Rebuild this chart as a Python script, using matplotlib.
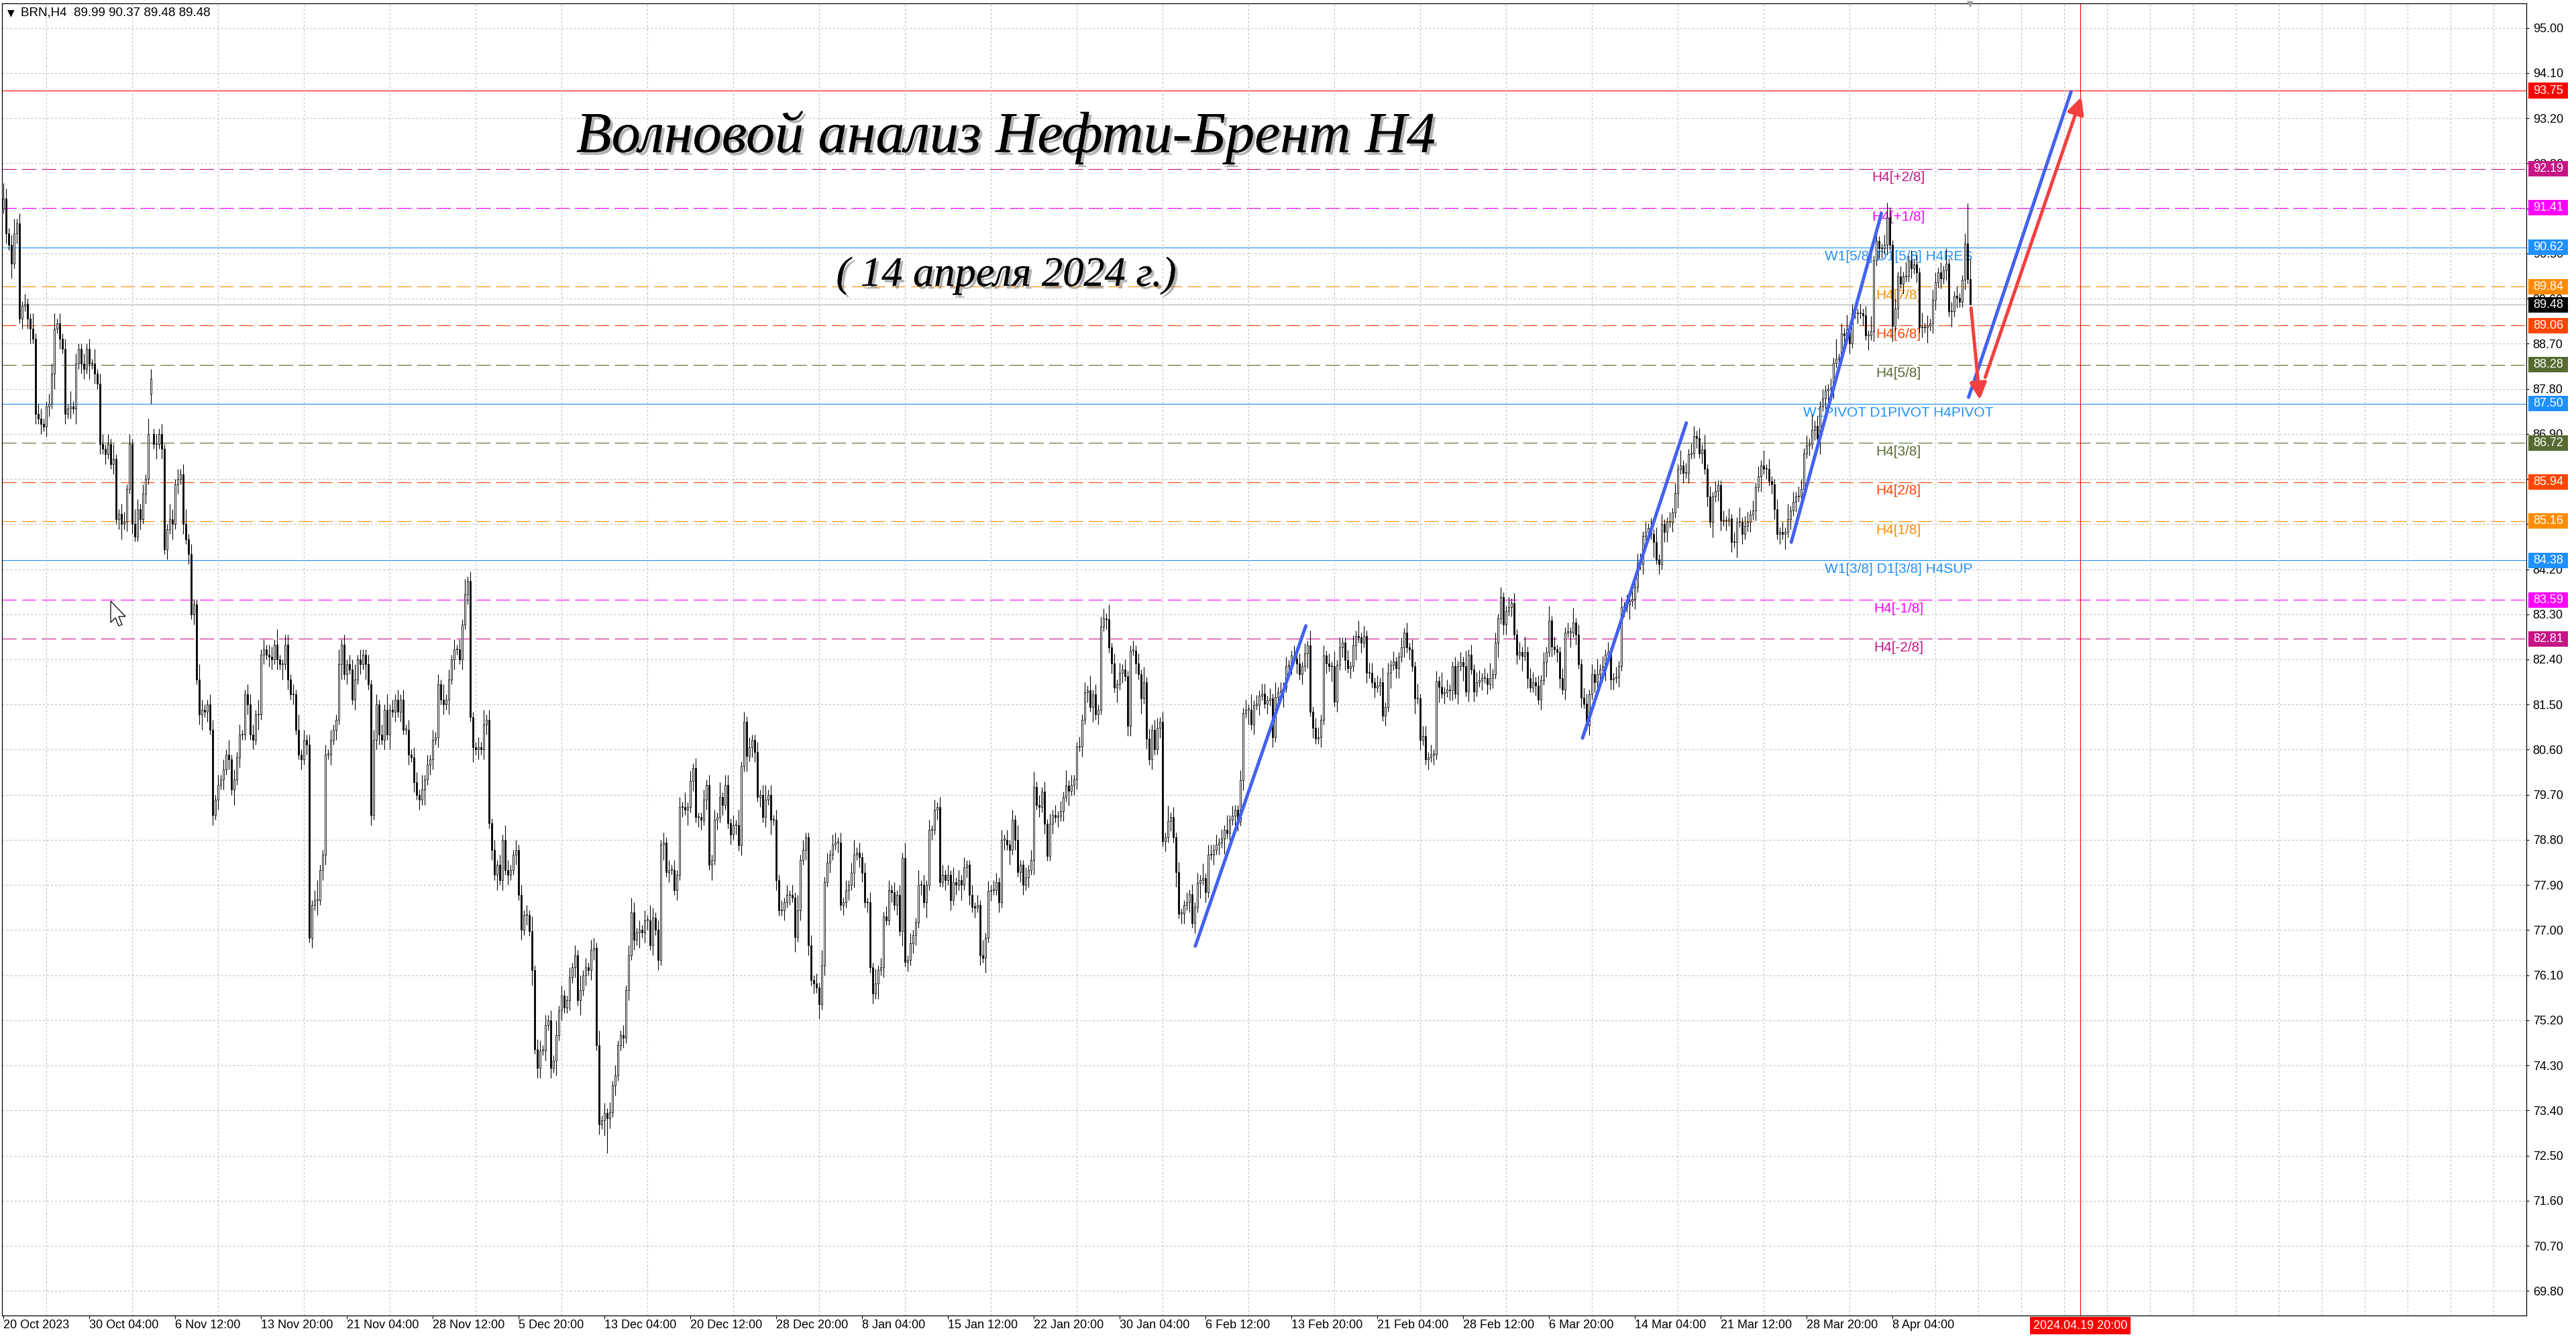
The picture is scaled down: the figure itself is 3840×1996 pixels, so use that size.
import numpy as np
import matplotlib.pyplot as plt
import matplotlib.patheffects as pe
from matplotlib.patches import Rectangle, Polygon
from matplotlib.transforms import blended_transform_factory

plt.rcParams['font.family'] = ['Liberation Sans', 'DejaVu Sans']

# BRN H4 closes, one per bar (20 Oct 2023 .. 12 Apr 2024)
closes = [
    91.6, 90.9, 90.67, 90.3, 90.9, 91.1, 89.2, 89.45, 89.5, 89.2,
    89.0, 88.8, 87.3, 87.2, 87.1, 87.05, 87.45, 87.5, 88.1, 89.0,
    89.1, 88.8, 88.6, 87.3, 87.4, 87.45, 87.4, 88.3, 88.6, 88.3,
    88.2, 88.6, 88.3, 88.3, 88.1, 87.9, 86.7, 86.6, 86.5, 86.7,
    86.3, 86.4, 85.2, 85.3, 85.1, 85.15, 85.8, 86.7, 85.1, 84.85,
    85.4, 85.2, 85.7, 86.0, 86.9, 88.0, 86.7, 86.7, 86.9, 86.6,
    84.6, 85.0, 85.2, 85.1, 85.9, 86.0, 86.1, 85.1, 84.8, 84.5,
    83.3, 83.5, 82.0, 81.3, 81.4, 81.35, 81.5, 81.0, 79.3, 79.6,
    79.9, 80.0, 80.2, 80.5, 80.4, 79.8, 80.0, 80.45, 80.9, 80.9,
    81.7, 81.5, 80.9, 80.8, 81.3, 81.3, 82.5, 82.6, 82.5, 82.45,
    82.4, 82.7, 82.4, 82.3, 82.3, 82.7, 82.0, 81.7, 81.7, 81.0,
    80.5, 80.4, 80.8, 80.7, 76.85, 77.5, 77.6, 77.6, 78.2, 78.5,
    80.5, 80.5, 80.8, 81.0, 81.2, 82.3, 82.7, 82.1, 82.3, 82.2,
    81.6, 82.0, 82.4, 82.3, 82.5, 82.3, 81.9, 79.3, 80.8, 81.5,
    80.9, 80.8, 81.4, 80.9, 81.4, 81.35, 81.6, 81.35, 81.6, 81.0,
    81.0, 80.5, 80.45, 79.95, 79.7, 79.6, 79.8, 80.0, 80.3, 80.4,
    80.8, 80.85, 81.9, 81.6, 81.5, 81.6, 82.0, 82.4, 82.6, 82.6,
    82.4, 83.1, 83.7, 83.96, 81.25, 80.65, 80.6, 80.65, 80.6, 81.1,
    81.2, 79.13, 78.6, 78.1, 78.3, 78.0, 78.8, 78.2, 78.1, 78.2,
    78.5, 78.6, 77.7, 77.0, 77.3, 77.3, 76.98, 76.2, 74.63, 74.25,
    74.6, 74.6, 75.1, 75.2, 74.25, 74.4, 74.9, 75.4, 75.7, 75.45,
    75.6, 76.05, 76.25, 76.5, 75.6, 75.8, 76.1, 76.25, 76.2, 76.6,
    76.65, 74.7, 73.13, 73.2, 73.35, 73.25, 73.37, 73.9, 74.1, 74.7,
    74.9, 74.85, 75.8, 76.5, 77.35, 76.8, 76.95, 77.0, 76.95, 77.2,
    77.2, 76.7, 77.25, 77.0, 76.4, 78.7, 78.75, 78.16, 78.2, 78.2,
    77.8, 78.1, 79.46, 79.45, 79.4, 79.45, 79.98, 80.23, 79.25, 79.25,
    79.2, 79.6, 79.9, 78.3, 78.4, 79.2, 79.25, 79.65, 79.5, 79.9,
    79.13, 78.9, 79.1, 79.1, 78.69, 80.27, 81.16, 80.47, 80.65, 80.8,
    80.55, 79.66, 79.7, 79.25, 79.6, 79.7, 79.2, 79.2, 78.0, 77.39,
    77.4, 77.55, 77.7, 77.7, 77.65, 76.86, 77.4, 78.4, 78.6, 78.85,
    76.7, 76.0, 75.93, 75.85, 75.52, 76.3, 77.96, 78.35, 78.5, 78.7,
    78.75, 78.75, 77.5, 77.55, 77.8, 77.9, 78.15, 78.5, 78.55, 78.45,
    78.15, 77.55, 77.55, 76.25, 75.73, 75.93, 76.2, 76.25, 77.27, 77.2,
    77.8, 77.75, 77.5, 77.7, 76.98, 78.44, 76.37, 76.4, 76.74, 76.9,
    77.15, 77.9, 77.9, 77.55, 77.9, 79.0, 79.0, 79.4, 79.45, 77.96,
    78.1, 78.0, 78.1, 77.6, 77.95, 77.9, 78.0, 77.9, 78.25, 78.3,
    77.7, 77.46, 77.45, 77.5, 76.5, 76.45, 76.85, 77.78, 77.8, 77.8,
    77.95, 77.55, 78.8, 78.8, 78.7, 78.6, 79.2, 78.8, 78.16, 78.3,
    77.9, 78.05, 78.2, 78.4, 79.86, 79.5, 79.45, 79.76, 79.12, 78.48,
    79.12, 79.3, 79.25, 79.28, 79.38, 79.66, 79.89, 79.78, 79.9, 80.0,
    80.66, 80.66, 81.2, 81.75, 81.78, 81.45, 81.7, 81.3, 81.4, 83.06,
    83.22, 83.2, 82.64, 82.32, 81.84, 81.9, 82.13, 82.2, 82.07, 81.07,
    82.58, 82.58, 82.32, 82.1, 81.62, 81.95, 80.82, 80.4, 81.0, 80.6,
    81.04, 81.15, 78.77, 78.85, 79.18, 79.25, 78.85, 78.16, 77.33, 77.33,
    77.5, 77.55, 77.71, 77.14, 77.46, 77.94, 78.0, 78.03, 77.75, 78.51,
    78.5, 78.6, 78.7, 78.74, 78.82, 79.0, 78.93, 79.2, 79.28, 79.4,
    79.18, 79.99, 81.33, 81.4, 81.4, 81.1, 81.49, 81.49, 81.68, 81.72,
    81.52, 81.58, 81.62, 80.85, 81.65, 81.75, 81.75, 81.84, 82.26, 82.29,
    82.48, 82.42, 82.32, 82.1, 82.26, 82.52, 82.68, 81.36, 81.04, 80.82,
    80.85, 81.2, 82.48, 82.32, 82.26, 82.26, 81.56, 82.29, 82.64, 82.74,
    82.39, 82.23, 82.26, 82.68, 82.87, 82.84, 82.74, 82.87, 82.13, 82.13,
    81.94, 81.84, 81.88, 81.94, 81.27, 81.45, 82.13, 82.29, 82.36, 82.23,
    82.45, 82.64, 82.93, 82.64, 82.6, 82.26, 81.62, 81.62, 80.79, 80.88,
    80.4, 80.45, 80.5, 80.5, 81.97, 81.85, 81.72, 81.75, 81.8, 81.78,
    82.26, 81.72, 82.27, 82.35, 82.27, 81.76, 82.5, 82.2, 81.76, 81.95,
    81.99, 82.03, 82.03, 81.9, 82.03, 82.11, 82.74, 83.21, 83.64, 83.1,
    83.37, 83.45, 83.52, 82.9, 82.5, 82.55, 82.47, 82.55, 82.03, 81.84,
    81.95, 81.88, 81.6, 81.99, 82.35, 82.55, 83.17, 82.66, 82.6, 82.55,
    82.03, 81.8, 82.94, 82.94, 82.94, 83.13, 82.9, 82.31, 81.64, 81.52,
    81.09, 81.7, 82.11, 81.95, 82.11, 82.2, 82.27, 82.5, 82.55, 82.0,
    82.03, 82.05, 82.27, 83.45, 83.45, 83.5, 83.56, 83.6, 83.84, 84.31,
    84.3, 84.86, 84.94, 85.02, 84.9, 84.74, 84.4, 84.3, 85.1, 84.94,
    85.14, 85.14, 85.33, 85.72, 86.2, 86.27, 86.12, 86.12, 86.5, 86.51,
    86.86, 86.82, 86.51, 86.59, 86.2, 85.65, 85.14, 85.65, 85.76, 85.88,
    85.17, 85.17, 85.17, 85.21, 84.74, 84.74, 85.14, 85.14, 84.9, 85.06,
    85.14, 85.29, 85.37, 85.84, 86.05, 86.27, 86.2, 86.2, 85.96, 85.9,
    85.4, 84.9, 84.94, 84.9, 84.94, 85.2, 85.37, 85.55, 85.65, 85.65,
    85.8, 86.51, 86.67, 86.7, 86.98, 87.06, 86.8, 87.45, 87.6, 87.77,
    87.8, 87.81, 88.32, 88.4, 88.4, 88.91, 88.87, 88.98, 88.71, 89.3,
    89.3, 89.3, 89.3, 89.26, 88.87, 88.87, 88.95, 90.36, 90.75, 90.6,
    90.6, 90.67, 91.22, 90.67, 89.05, 89.4, 90.04, 89.9, 90.04, 90.04,
    90.36, 90.2, 90.28, 90.12, 89.02, 89.02, 89.02, 89.06, 89.1, 89.57,
    89.92, 90.12, 90.0, 90.16, 90.3, 89.34, 89.34, 89.65, 89.61, 89.53,
    89.97, 90.7, 89.99, 89.48,
]
first_open = 91.4
gap_opens = {55: 87.7, 56: 86.9}

# wick sizes per bar, in 0.1 price units (groups of ten bars)
upper_wicks = """
3212312121 1312211223 1212131211 2121312212 1311221213
2121321212 1132121231 2113211221 2121312121 1222131212
2131122121 3121212411 2121131212 2312112122 1213121212
1212213121 2121312121 2131211213 1212121321 1212121312
2121213121 1212131212 2131212121 1212321212 1321212121
2121312121 1212121312 2121312121 1212312121 2121213121
1212131212 2121212312 1212131212 2121213121 1312121212
2121312121 1212131212 2121212131 1212312121 2121213121
1212131212 2131212121 1212131212 2121312121 1212121312
2121213121 1212131212 2121312121 1212121312 2121213121
1212131212 2121312121 1212121312 2121213121 1212131212
2121312121 1212121312 2121213121 1212131212 2121312121
1212121312 2121213121 1212131212 2121312121 1212121312
2121213121 1212131212 2121312121 1214121312 2121213121
1232121213 1212131212 2121312121 1284
"""
lower_wicks = """
1213121212 3121212213 1212121312 2131212121 1212312121
1212121312 1213121212 1212312121 2121213121 1212131212
2121312121 1212121312 2121213121 1212131212 2121312121
1212121312 2121213121 1212131212 2121312121 1212121312
2121213121 1212131212 2121372121 1212121312 2121213121
1212131212 2121312121 1212121312 2121213121 1212131212
2121312121 1212121312 2121213121 1212131212 2121312121
1212121312 2121213121 1212131212 2121312121 1212121312
2121213121 1212131212 2121312121 1212121312 2121213121
1212131212 2121312121 1212121312 2121213121 1212131212
2121312121 1212121312 2121213121 1212131212 2121312121
1212121312 2121213121 1212131212 2121312121 1212121312
2121213121 1212131212 2121312121 1212121312 2121213121
1212131212 2121312121 1212121312 2121213121 1212131212
2121312121 1212121312 2121213121 1210
"""

# Murrey / pivot levels drawn by the indicator
level_prices = [92.19, 91.41, 90.62, 89.84, 89.06, 88.28, 87.50, 86.72, 85.94, 85.16, 84.38, 83.59, 82.81]
level_names = ['H4[+2/8]', 'H4[+1/8]', 'W1[5/8] D1[5/8] H4RES', 'H4[7/8]', 'H4[6/8]', 'H4[5/8]',
               'W1PIVOT D1PIVOT H4PIVOT', 'H4[3/8]', 'H4[2/8]', 'H4[1/8]', 'W1[3/8] D1[3/8] H4SUP',
               'H4[-1/8]', 'H4[-2/8]']
level_colors = ['#C71585', '#FF00FF', '#1E90FF', '#FF8C00', '#FF4500', '#556B2F', '#1E90FF',
                '#556B2F', '#FF4500', '#FF8C00', '#1E90FF', '#FF00FF', '#C71585']
target_price = 93.75
last_price = 89.48

# wave lines (bar index, price)
waves = [
    ((444.2, 76.68), (485.4, 83.07)),
    ((588.5, 80.83), (627.2, 87.12)),
    ((666.3, 84.74), (699.9, 91.30)),
    ((732.4, 87.63), (770.6, 93.73)),
]
arrows = [
    ((733.3, 89.41), (736.6, 87.58)),
    ((738.6, 88.03), (774.4, 93.62)),
]
future_bar = 774
future_label = '2024.04.19 20:00'

date_ticks = list(range(0, 705, 32))
date_labels = ['20 Oct 2023', '30 Oct 04:00', '6 Nov 12:00', '13 Nov 20:00', '21 Nov 04:00',
               '28 Nov 12:00', '5 Dec 20:00', '13 Dec 04:00', '20 Dec 12:00', '28 Dec 20:00',
               '8 Jan 04:00', '15 Jan 12:00', '22 Jan 20:00', '30 Jan 04:00', '6 Feb 12:00',
               '13 Feb 20:00', '21 Feb 04:00', '28 Feb 12:00', '6 Mar 20:00', '14 Mar 04:00',
               '21 Mar 12:00', '28 Mar 20:00', '8 Apr 04:00']

# ---- build OHLC
c = np.array(closes)
n = len(c)
o = np.concatenate([[first_open], c[:-1]])
for k, v in gap_opens.items():
    o[k] = v
up_digits = ''.join(upper_wicks.split())
lo_digits = ''.join(lower_wicks.split())
m = min(n, len(up_digits), len(lo_digits))
c, o = c[:m], o[:m]
up = np.array([int(ch) for ch in up_digits[:m]]) * 0.1
lo = np.array([int(ch) for ch in lo_digits[:m]]) * 0.1
h = np.maximum(o, c) + up
l = np.minimum(o, c) - lo
x = np.arange(m)

fig = plt.figure(figsize=(38.4, 19.96), dpi=100)
ax = fig.add_axes([3 / 3840, 1 - 1961 / 1996, 3763 / 3840, 1956 / 1996])
ax.set_xlim(-0.5, 940.25)
ax.set_ylim(69.31, 95.49)

# grid
yt = np.round(np.arange(69.8, 95.05, 0.9), 2)
ax.set_yticks(yt)
ax.set_yticklabels([f'{v:.2f}' for v in yt])
ax.yaxis.tick_right()
ax.set_xticks(date_ticks)
ax.set_xticklabels(date_labels)
plt.setp(ax.get_xticklabels(), ha='left')
ax.set_xticks(np.arange(0, 941, 16), minor=True)
ax.grid(which='minor', axis='x', color='#BDBDBD', lw=0.75, linestyle=(0, (2.9, 2.9)), zorder=0)
ax.grid(which='major', axis='y', color='#BDBDBD', lw=0.75, linestyle=(0, (2.9, 2.9)), zorder=0)
ax.tick_params(which='minor', length=0)
ax.tick_params(axis='x', which='major', length=3.6, width=0.8, pad=1, labelsize=13)
ax.tick_params(axis='y', length=3, width=0.8, pad=4, labelsize=13)
for s in ax.spines.values():
    s.set_color('black')
    s.set_linewidth(0.9)

# levels
for p, name, col in zip(level_prices, level_names, level_colors):
    ls = '-' if 'W1' in name else (0, (19, 7.5))
    ax.axhline(p, color=col, lw=0.8, linestyle=ls, zorder=1)
    ax.text(706.25, p - 0.05, name, color=col, fontsize=15, ha='center', va='top', zorder=1.5)
ax.axhline(last_price, color='#A9A9A9', lw=0.75, zorder=1)
ax.axhline(target_price, color='#FF0000', lw=0.8, zorder=1)
ax.axvline(future_bar, color='#FF0000', lw=0.8, zorder=1)

# candles
ax.vlines(x, l, h, color='black', lw=0.8, zorder=2)
body_h = np.abs(c - o)
body_h = np.where(body_h < 0.02, 0.02, body_h)
face = np.where(c >= o, 'white', 'black')
ax.bar(x, body_h, bottom=np.minimum(o, c), width=0.72, color=face, edgecolor='black',
       linewidth=0.6, zorder=3)

# wave lines and arrows
for (x0, y0), (x1, y1) in waves:
    ax.plot([x0, x1], [y0, y1], color='#4262F0', lw=3.6, solid_capstyle='round', zorder=5)
for (x0, y0), (x1, y1) in arrows:
    ax.annotate('', xy=(x1, y1), xytext=(x0, y0),
                arrowprops=dict(arrowstyle='-|>,head_length=1.0,head_width=0.5', lw=3.6,
                                color='#F24040', mutation_scale=15, shrinkA=0, shrinkB=0),
                zorder=6)

# price boxes on the right scale
tr = blended_transform_factory(ax.transAxes, ax.transData)
box_h = 23 / 74.7
box_items = list(zip(level_prices, level_colors)) + [(target_price, '#FF0000'), (last_price, 'black')]
for p, col in box_items:
    ax.add_patch(Rectangle((1 + 3 / 3763, p - box_h / 2), 59 / 3763, box_h, transform=tr,
                           facecolor=col, edgecolor='none', clip_on=False, zorder=10))
    ax.text(1 + 10 / 3763, p, f'{p:.2f}', transform=tr, color='white', fontsize=13,
            ha='left', va='center', clip_on=False, zorder=11)

# future time label
trx = blended_transform_factory(ax.transData, ax.transAxes)
ax.text(future_bar, -0.0078, future_label, transform=trx, color='white', fontsize=13,
        ha='center', va='center', zorder=11,
        bbox=dict(boxstyle='square,pad=0.25', facecolor='#FF0000', edgecolor='none'))

# header and titles
fig.text(16 / 3840, 1 - 19 / 1996, '▼', fontsize=10, ha='center', va='center',
         family=['DejaVu Sans'])
fig.text(31 / 3840, 1 - 19 / 1996, 'BRN,H4  89.99 90.37 89.48 89.48', fontsize=13.5,
         ha='left', va='center')
fig.text(2937 / 3840, 1 - 6 / 1996, '▼', fontsize=9, color='#A0A0A0', ha='center',
         va='center', family=['DejaVu Sans'])
shadow = [pe.withSimplePatchShadow(offset=(3, -3), shadow_rgbFace='#777777', alpha=0.55), pe.Normal()]
fig.text(1500 / 3840, 1 - 205 / 1996, 'Волновой анализ Нефти-Брент H4', fontsize=62,
         family=['Liberation Serif', 'DejaVu Serif'], style='italic',
         ha='center', va='center', path_effects=shadow)
fig.text(1500 / 3840, 1 - 411 / 1996, '( 14 апреля 2024 г.)', fontsize=45,
         family=['Liberation Serif', 'DejaVu Serif'], style='italic',
         ha='center', va='center', path_effects=shadow)

# mouse pointer left on the screenshot
cur = np.array([(0, 0), (0, 32), (7, 25), (12, 37), (17, 35), (12, 23), (22, 23)], float)
cur[:, 0] = (165 + cur[:, 0]) / 3840
cur[:, 1] = 1 - (896 + cur[:, 1]) / 1996
fig.add_artist(Polygon(cur, closed=True, facecolor='white', edgecolor='black', lw=0.9,
                       transform=fig.transFigure))

fig.savefig('out.png', dpi=100, facecolor='white')
